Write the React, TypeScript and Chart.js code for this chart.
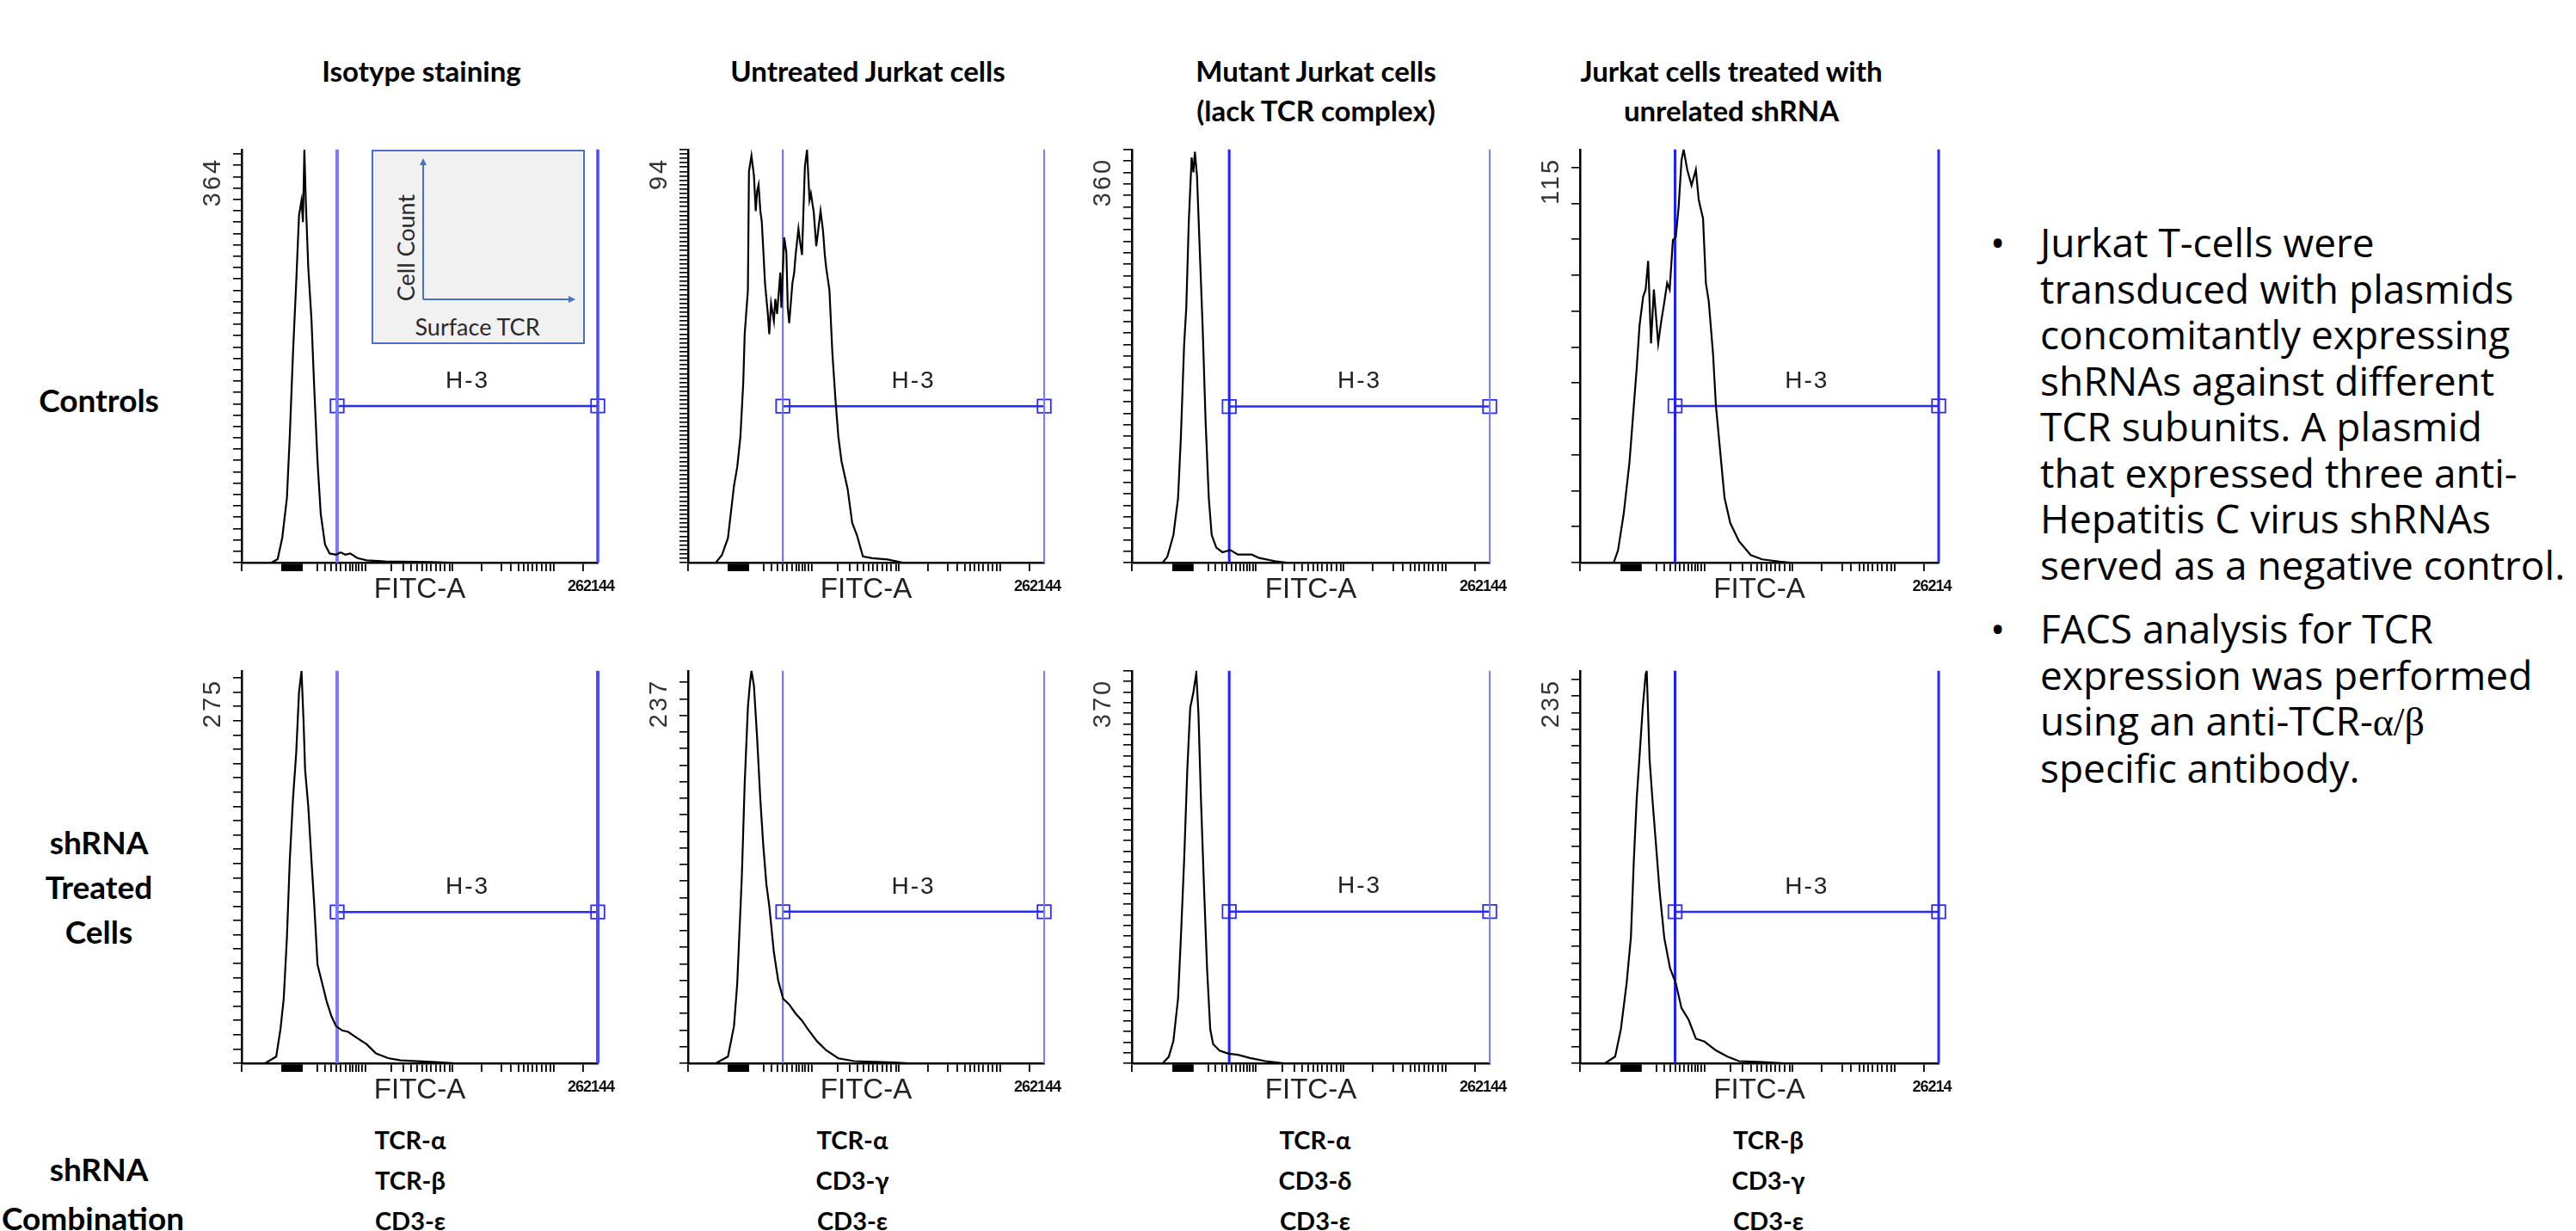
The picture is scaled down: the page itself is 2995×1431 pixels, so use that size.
import React, { useEffect, useRef } from "react";
import { Chart, registerables } from "chart.js";
Chart.register(...registerables);

// ---------------- text content ----------------
const COLUMN_TITLES: string[][] = [
  ["Isotype staining"],
  ["Untreated Jurkat cells"],
  ["Mutant Jurkat cells", "(lack TCR complex)"],
  ["Jurkat cells treated with", "unrelated shRNA"],
];
const ROW_LABEL_CONTROLS = ["Controls"];
const ROW_LABEL_TREATED = ["shRNA", "Treated", "Cells"];
const ROW_LABEL_COMBO = ["shRNA", "Combination"];
const SHRNA_COMBOS: string[][] = [
  ["TCR-α", "TCR-β", "CD3-ε"],
  ["TCR-α", "CD3-γ", "CD3-ε"],
  ["TCR-α", "CD3-δ", "CD3-ε"],
  ["TCR-β", "CD3-γ", "CD3-ε"],
];
const BULLET_1 = [
  "Jurkat T-cells were",
  "transduced with plasmids",
  "concomitantly expressing",
  "shRNAs against different",
  "TCR subunits.  A plasmid",
  "that expressed three anti-",
  "Hepatitis C virus shRNAs",
  "served as a negative control.",
];
const BULLET_2 = ["FACS analysis for TCR", "expression was performed", "using an anti-TCR-", "specific antibody."];

// ---------------- axis / gate values ----------------
const X_AXIS_TITLE = "FITC-A";
const GATE_NAME = "H-3";
const Y_MAX = [364, 94, 360, 115, 275, 237, 370, 235];
const Y_TICK_STEP = [10, 1, 10, 10, 10, 10, 10, 10];
const X_MAX_LABEL = ["262144", "262144", "262144", "26214", "262144", "262144", "262144", "26214"];
const GATE_LEFT = [268, 266, 272, 265, 268, 266, 272, 265];
const GATE_RIGHT = [1000, 1000, 1000, 1000, 1000, 1000, 1000, 1000];
const GATE_Y = [138, 35.6, 136, 43.6, 106, 91.5, 143, 90.7];
// display-channel positions of the x-axis tick marks
const X_TICKS = [
  0,
  114, 116, 118, 120, 122, 124, 126, 128, 130, 132, 134, 136, 138, 140, 142, 144, 146, 148, 150, 152, 154, 156, 158, 160, 162, 164, 166, 168, 170,
  213, 234, 252, 265, 278, 291, 303, 312, 321, 329, 338, 347,
  420, 454, 476, 493, 506, 519, 532, 545, 557, 571, 584, 592,
  674, 730, 756, 778, 791, 803, 816, 829, 842, 855, 868, 877, 959,
];

// ---------------- histogram series (x = display channel 0..1000, y = count) ----------------
const H1_X = [84, 101, 114, 127, 135, 144, 153, 161, 168, 172, 176, 180, 187, 196, 204, 213, 222, 234, 247, 265, 278, 291, 305, 325, 351, 403, 532, 592];
const H1_Y = [0, 3, 22, 57, 111, 184, 246, 306, 319, 300, 364, 319, 260, 214, 152, 89, 43, 16, 8, 7, 9, 7, 8, 4, 2, 1, 0.5, 0];

const H2_X = [78, 95, 112, 129, 138, 147, 155, 159, 168, 171, 178, 185, 190, 194, 198, 203, 207, 212, 216, 224, 228, 233, 241, 245, 250, 259, 262, 267, 270, 276, 280, 284, 293, 298, 302, 310, 315, 320, 323, 328, 334, 341, 345, 353, 360, 366, 372, 379, 384, 388, 397, 405, 414, 422, 431, 448, 461, 474, 491, 517, 560, 603];
const H2_Y = [0, 1.7, 5.6, 17.5, 21.7, 28.7, 41, 52, 62, 89, 92.6, 88, 80, 84.6, 86, 80, 77.6, 70, 63.6, 56.6, 52, 59, 55, 60, 56.6, 66, 58, 68, 74, 70.6, 58, 54.5, 63.6, 66, 70, 76, 72.7, 70, 77.6, 90, 94, 82.5, 84, 79.7, 72, 76, 80, 75.5, 70, 67, 62, 48, 37, 28.7, 23, 16.8, 9, 6.3, 1.4, 1, 0.7, 0];

const H3_X = [86, 99, 116, 129, 137, 146, 152, 159, 167, 172, 176, 182, 189, 198, 206, 215, 223, 236, 253, 275, 296, 335, 356, 399, 433];
const H3_Y = [0, 5, 24, 56, 110, 190, 222, 297, 353, 340, 358, 337, 278, 203, 123, 56, 24, 13, 9, 11, 7, 7, 4, 1.3, 0];

const H4_X = [94, 106, 122, 138, 150, 158, 166, 176, 183, 190, 198, 206, 218, 227, 234, 243, 250, 259, 267, 275, 283, 289, 299, 311, 323, 331, 343, 351, 359, 371, 379, 391, 403, 419, 443, 476, 508, 556, 588];
const H4_Y = [0, 3.4, 13.7, 28, 43.6, 54, 66, 74, 76, 84, 61, 76, 61, 67.5, 71.8, 77.8, 76, 89.8, 90.6, 99, 112, 115, 109.4, 105, 109.4, 101, 95.8, 77.8, 72.7, 58, 43.6, 30.8, 18, 11, 6, 2.1, 0.9, 0.3, 0];

const H5_X = [66, 97, 109, 118, 127, 135, 144, 153, 161, 168, 174, 178, 187, 196, 204, 213, 226, 239, 252, 265, 282, 299, 325, 351, 377, 411, 446, 532, 601];
const H5_Y = [0, 4.7, 24, 45, 88, 142, 185, 217, 260, 275, 238, 206, 180, 142, 110, 69, 56, 43, 33, 26, 23, 22, 17.6, 13.3, 6.9, 3.6, 2, 1, 0];

const H6_X = [78, 112, 129, 138, 151, 159, 168, 174, 178, 185, 194, 203, 211, 220, 228, 241, 253, 267, 284, 302, 319, 336, 362, 388, 422, 466, 578, 621];
const H6_Y = [0, 4, 22.5, 48, 113, 169, 215, 230, 237, 228, 196, 159, 132, 108, 95, 67, 50, 39, 35.5, 30, 26, 20.7, 13.3, 7.8, 3, 1.3, 0.5, 0];

const H7_X = [86, 103, 116, 129, 137, 146, 155, 163, 172, 180, 186, 193, 202, 210, 219, 227, 245, 270, 296, 330, 373, 425];
const H7_Y = [0, 6, 21, 61, 119, 191, 278, 335, 350, 368, 330, 249, 162, 90, 32, 18, 12, 9, 8, 5, 2, 0];

const H8_X = [70, 98, 114, 130, 142, 150, 158, 166, 175, 183, 186, 194, 202, 210, 222, 235, 251, 267, 283, 303, 323, 347, 379, 411, 443, 508, 572];
const H8_Y = [0, 4, 20.5, 48, 75.5, 121, 158, 184, 213, 233, 235, 182, 158, 136, 103, 75, 57, 48, 33, 26, 14.7, 13, 7.7, 4, 1.3, 0.7, 0];

const HIST_X = [H1_X, H2_X, H3_X, H4_X, H5_X, H6_X, H7_X, H8_X];
const HIST_Y = [H1_Y, H2_Y, H3_Y, H4_Y, H5_Y, H6_Y, H7_Y, H8_Y];

// ---------------- layout / style ----------------
const COL_X = [281, 800, 1316, 1837];
const COL_W = [414, 414, 416, 417];
const ROW_TOP = [173, 779];
const ROW_H = [481, 457];
const GATE_STYLE = [
  { l: "#7b7bff", lw: 4, r: "#4a4aff", rw: 3.5 },
  { l: "#6b6bff", lw: 2, r: "#7b7bff", rw: 2 },
  { l: "#1f1fff", lw: 3, r: "#7b7bff", rw: 2 },
  { l: "#1f1fff", lw: 3, r: "#2a2aff", rw: 3 },
  { l: "#7b7bff", lw: 4, r: "#4a4aff", rw: 4 },
  { l: "#6b6bff", lw: 2, r: "#7b7bff", rw: 2 },
  { l: "#1f1fff", lw: 3, r: "#7b7bff", rw: 2 },
  { l: "#1f1fff", lw: 3, r: "#2a2aff", rw: 3 },
];
const SANS = '"Liberation Sans", Arial, sans-serif';
const AXW = 55;
const AXH = 65;
const PT = 12;
const PR = 50;

function FacsPanel({ idx }: { idx: number }) {
  const ref = useRef<HTMLCanvasElement>(null);
  const col = idx % 4;
  const row = Math.floor(idx / 4);
  const w = AXW + COL_W[col] + PR;
  const h = PT + ROW_H[row] + AXH;

  useEffect(() => {
    const ymax = Y_MAX[idx];
    const gl = GATE_LEFT[idx];
    const gr = GATE_RIGHT[idx];
    const gy = GATE_Y[idx];
    const st = GATE_STYLE[idx];
    const labelPlugin = {
      id: "facsLabels" + idx,
      afterDatasetsDraw(chart: any) {
        const { ctx, chartArea, scales } = chart;
        const x = scales.x;
        const y = scales.y;
        ctx.save();
        ctx.textAlign = "center";
        ctx.textBaseline = "middle";
        ctx.fillStyle = "#222";
        ctx.font = `28px ${SANS}`;
        (ctx as any).letterSpacing = "2px";
        ctx.fillText(GATE_NAME, x.getPixelForValue((gl + gr) / 2), y.getPixelForValue(gy) - 29);
        (ctx as any).letterSpacing = "-1px";
        ctx.fillStyle = "#111";
        ctx.font = `bold 18px ${SANS}`;
        ctx.fillText(X_MAX_LABEL[idx], chartArea.right - 8, chartArea.bottom + 28);
        ctx.save();
        ctx.translate(chartArea.left - 33, y.getPixelForValue(ymax) + 9);
        ctx.rotate(-Math.PI / 2);
        ctx.textAlign = "right";
        ctx.fillStyle = "#333";
        ctx.font = `29px ${SANS}`;
        (ctx as any).letterSpacing = "3px";
        ctx.fillText(String(ymax), 0, 0);
        ctx.restore();
        ctx.restore();
      },
    };
    const chart = new Chart(ref.current as HTMLCanvasElement, {
      type: "scatter",
      data: {
        datasets: [
          {
            data: HIST_X[idx].map((v, j) => ({ x: v, y: HIST_Y[idx][j] })),
            showLine: true,
            borderColor: "#000",
            borderWidth: 2.2,
            pointRadius: 0,
            tension: 0,
          },
          {
            data: [{ x: gl, y: 0 }, { x: gl, y: ymax }],
            showLine: true,
            borderColor: st.l,
            borderWidth: st.lw,
            pointRadius: 0,
            clip: false,
          },
          {
            data: [{ x: gr, y: 0 }, { x: gr, y: ymax }],
            showLine: true,
            borderColor: st.r,
            borderWidth: st.rw,
            pointRadius: 0,
            clip: false,
          },
          {
            data: [{ x: gl, y: gy }, { x: gr, y: gy }],
            showLine: true,
            borderColor: "#2a2aff",
            borderWidth: 2.5,
            pointStyle: "rect",
            pointRadius: 11,
            pointBorderColor: "#2a2aff",
            pointBackgroundColor: "rgba(0,0,0,0)",
            pointBorderWidth: 1.8,
            clip: false,
          },
        ] as any,
      },
      options: {
        responsive: false,
        animation: false,
        devicePixelRatio: 1,
        events: [],
        layout: { padding: { left: 0, top: PT, right: PR, bottom: 0 } },
        plugins: { legend: { display: false }, tooltip: { enabled: false } },
        scales: {
          x: {
            type: "linear",
            min: 0,
            max: 1000,
            afterBuildTicks: (s: any) => {
              s.ticks = X_TICKS.map((v) => ({ value: v }));
            },
            afterFit: (s: any) => {
              s.height = AXH;
            },
            ticks: { display: false },
            grid: { drawOnChartArea: false, drawTicks: true, tickLength: 10, color: "#000", lineWidth: 1.8 },
            border: { display: true, color: "#000", width: 2.5 },
            title: {
              display: true,
              text: X_AXIS_TITLE,
              color: "#222",
              font: { family: SANS, size: 33 },
              padding: { top: 0, bottom: 13 },
            },
          },
          y: {
            type: "linear",
            min: 0,
            max: ymax,
            afterBuildTicks: (s: any) => {
              const t: { value: number }[] = [];
              for (let v = 0; v <= ymax; v += Y_TICK_STEP[idx]) t.push({ value: v });
              s.ticks = t;
            },
            afterFit: (s: any) => {
              s.width = AXW;
            },
            ticks: { display: false },
            grid: { drawOnChartArea: false, drawTicks: true, tickLength: 10, color: "#000", lineWidth: 1.6 },
            border: { display: true, color: "#000", width: 2.5 },
            title: { display: false },
          },
        },
      } as any,
      plugins: [labelPlugin as any],
    });
    return () => chart.destroy();
  }, [idx]);

  return (
    <canvas
      ref={ref}
      width={w}
      height={h}
      style={{ position: "absolute", left: COL_X[col] - AXW, top: ROW_TOP[row] - PT, width: w, height: h }}
    />
  );
}

function Txt({ x, y, children, style }: { x: number; y: number; children: any; style?: any }) {
  return (
    <div
      style={{
        position: "absolute",
        left: x,
        top: y,
        transform: "translate(-50%,-50%)",
        whiteSpace: "nowrap",
        lineHeight: 1,
        ...style,
      }}
    >
      {children}
    </div>
  );
}

const BOLD = { fontFamily: "Lato, 'Open Sans', sans-serif", fontWeight: 700, color: "#000" };
const TITLE_X = [490, 1009, 1530, 2013];
const COMBO_X = [477, 991, 1529, 2056];

export default function App() {
  const bodyFont = { fontFamily: "'Open Sans', Lato, sans-serif", fontSize: 46, color: "#000" };
  return (
    <div
      style={{
        position: "fixed",
        left: 0,
        top: 0,
        width: 2995,
        height: 1431,
        overflow: "hidden",
        background: "#fff",
      }}
    >
      {[0, 1, 2, 3, 4, 5, 6, 7].map((i) => (
        <FacsPanel key={i} idx={i} />
      ))}

      {COLUMN_TITLES.map((lines, c) =>
        lines.map((t, k) => (
          <Txt key={c + "-" + k} x={TITLE_X[c]} y={82 + k * 46} style={{ ...BOLD, fontSize: 33 }}>
            {t}
          </Txt>
        ))
      )}

      {ROW_LABEL_CONTROLS.map((t, k) => (
        <Txt key={"c" + k} x={115} y={464} style={{ ...BOLD, fontSize: 37 }}>
          {t}
        </Txt>
      ))}
      {ROW_LABEL_TREATED.map((t, k) => (
        <Txt key={"t" + k} x={115} y={978 + k * 52} style={{ ...BOLD, fontSize: 37 }}>
          {t}
        </Txt>
      ))}
      {ROW_LABEL_COMBO.map((t, k) => (
        <Txt key={"s" + k} x={k === 0 ? 115 : 108} y={1358 + k * 57} style={{ ...BOLD, fontSize: 37 }}>
          {t}
        </Txt>
      ))}

      {SHRNA_COMBOS.map((lines, c) =>
        lines.map((t, k) => (
          <Txt key={"m" + c + k} x={COMBO_X[c]} y={1324 + k * 47} style={{ ...BOLD, fontSize: 29 }}>
            {t}
          </Txt>
        ))
      )}

      <div
        style={{
          position: "absolute",
          left: 432,
          top: 174,
          width: 248,
          height: 226,
          boxSizing: "border-box",
          border: "2px solid #4472c4",
          background: "#f1f1f1",
        }}
      >
        <svg width={248} height={226} style={{ position: "absolute", left: -2, top: -2 }}>
          <defs>
            <marker id="ah" markerWidth="8" markerHeight="8" refX="6" refY="4" orient="auto" markerUnits="userSpaceOnUse">
              <path d="M0,0 L8,4 L0,8 z" fill="#4472c4" />
            </marker>
          </defs>
          <line x1={60} y1={174} x2={60} y2={12} stroke="#4472c4" strokeWidth={2} markerEnd="url(#ah)" />
          <line x1={60} y1={174} x2={235} y2={174} stroke="#4472c4" strokeWidth={2} markerEnd="url(#ah)" />
        </svg>
        <div
          style={{
            position: "absolute",
            left: 37,
            top: 112,
            transform: "translate(-50%,-50%) rotate(-90deg)",
            whiteSpace: "nowrap",
            fontFamily: "Lato, sans-serif",
            fontSize: 27,
            color: "#2a2a2a",
            lineHeight: 1,
          }}
        >
          Cell Count
        </div>
        <div
          style={{
            position: "absolute",
            left: 121,
            top: 203,
            transform: "translate(-50%,-50%)",
            whiteSpace: "nowrap",
            fontFamily: "Lato, sans-serif",
            fontSize: 27,
            color: "#2a2a2a",
            lineHeight: 1,
          }}
        >
          Surface TCR
        </div>
      </div>

      <div style={{ position: "absolute", left: 2314, top: 281, transform: "translateY(-50%)", lineHeight: 1, ...bodyFont }}>•</div>
      {BULLET_1.map((t, k) => (
        <div
          key={"b1" + k}
          style={{ position: "absolute", left: 2372, top: 281 + k * 53.5, transform: "translateY(-50%)", whiteSpace: "nowrap", lineHeight: 1, ...bodyFont }}
        >
          {t}
        </div>
      ))}
      <div style={{ position: "absolute", left: 2314, top: 730, transform: "translateY(-50%)", lineHeight: 1, ...bodyFont }}>•</div>
      {BULLET_2.map((t, k) => (
        <div
          key={"b2" + k}
          style={{ position: "absolute", left: 2372, top: 730 + k * 54, transform: "translateY(-50%)", whiteSpace: "nowrap", lineHeight: 1, ...bodyFont }}
        >
          {t}
          {k === 2 ? <span style={{ fontFamily: "'Liberation Serif', serif" }}>α/β</span> : null}
        </div>
      ))}
    </div>
  );
}
